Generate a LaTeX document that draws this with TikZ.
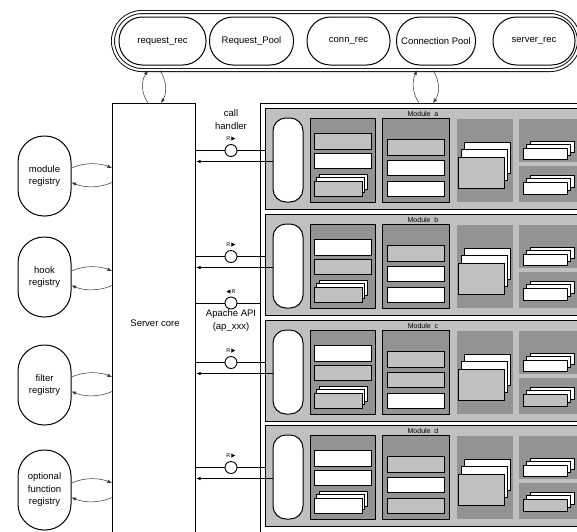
\documentclass[tikz,border=0pt]{standalone}
\usepackage{fontspec}
\setmainfont{Liberation Sans}
\newfontfamily\symfnt{DejaVu Sans}
\usetikzlibrary{arrows.meta,calc}
\definecolor{modfill}{HTML}{C0C0C0}
\definecolor{boxfill}{HTML}{939393}
\definecolor{barg}{HTML}{C0C0C0}
\definecolor{curvecol}{HTML}{333333}
\tikzset{
  txt/.style={inner sep=0pt, font=\fontsize{9.5}{12.5}\selectfont, align=center},
  stad/.style={draw, line width=1pt, rounded corners=23.5pt, minimum height=48pt, inner sep=0pt, font=\fontsize{9.5}{12}\selectfont},
  reg/.style={draw, line width=1pt, rounded corners=26pt, minimum width=53pt, minimum height=80pt, inner sep=0pt, align=center, font=\fontsize{9.5}{12.5}\selectfont},
  pillbox/.style={draw, line width=1pt, fill=white, rounded corners=13pt, minimum width=30pt, minimum height=84pt, inner sep=0pt},
  modbox/.style={draw, line width=1pt, fill=modfill, inner sep=0pt, anchor=north west},
  port/.style={circle, draw, line width=0.9pt, fill=white, minimum size=12pt, inner sep=0pt},
  rlbl/.style={inner sep=0pt, font=\fontsize{5.5}{6}\selectfont},
  modlbl/.style={inner sep=0pt, font=\fontsize{7}{8}\selectfont},
  wire/.style={line width=0.8pt},
  arr/.style={-{Latex[length=4.5pt,width=3.5pt]}},
  curvearr/.style={line width=0.5pt, draw=curvecol, -{Latex[length=4.5pt,width=3.5pt]}},
  bar/.style={draw, line width=0.8pt},
}
\newcommand\modblock[9]{%
  \pgfmathsetmacro\mT{#1}
  \node[modbox, minimum width=325pt, minimum height=101pt] (mod#2) at (265,\mT) {};
  \node[modlbl] (lbl#2) at (423,\mT+5.5) {Module\ \ #2};
  \node[pillbox] (pill#2) at (288,\mT+52) {};
  % box 1
  \draw[fill=boxfill, line width=1pt] (310,\mT+10) rectangle (375,\mT+94);
  \draw[bar, fill=#3] (314,\mT+25) rectangle (371,\mT+41);
  \draw[bar, fill=#4] (314,\mT+45) rectangle (371,\mT+60);
  \draw[bar, fill=white] (319,\mT+66) rectangle (367,\mT+81);
  \draw[bar, fill=white] (316.5,\mT+69.5) rectangle (364.5,\mT+84.5);
  \draw[bar, fill=#5] (314,\mT+73) rectangle (362,\mT+88);
  % box 2
  \draw[fill=boxfill, line width=1pt] (382,\mT+10) rectangle (449,\mT+94);
  \draw[bar, fill=#6] (387,\mT+31) rectangle (444,\mT+47);
  \draw[bar, fill=#7] (387,\mT+52) rectangle (444,\mT+67);
  \draw[bar, fill=#8] (387,\mT+73) rectangle (444,\mT+88);
  % box 3
  \fill[boxfill] (457,\mT+11) rectangle (513,\mT+94);
  \draw[bar, fill=white] (464,\mT+34) rectangle (510.5,\mT+65);
  \draw[bar, fill=white] (461,\mT+41.5) rectangle (507.5,\mT+72.5);
  \draw[bar, fill=barg] (458,\mT+49) rectangle (504.5,\mT+80);
  % box 4
  \fill[boxfill] (519,\mT+11) rectangle (590,\mT+54);
  \fill[boxfill] (519,\mT+58) rectangle (590,\mT+94);
  \draw[bar, fill=white] (530,\mT+33) rectangle (574,\mT+44);
  \draw[bar, fill=white] (526.5,\mT+36.5) rectangle (570.5,\mT+47.5);
  \draw[bar, fill=white] (523,\mT+40) rectangle (567,\mT+51);
  \draw[bar, fill=white] (530,\mT+67) rectangle (574,\mT+79);
  \draw[bar, fill=white] (526.5,\mT+70.5) rectangle (570.5,\mT+82.5);
  \draw[bar, fill=#9] (523,\mT+74) rectangle (567,\mT+86);
  % connectors
  \node[port] (c#2) at (231,\mT+42.5) {};
  \node[rlbl] (r#2) at (231,\mT+30.5) {R\,{\symfnt ▶}};
  \draw[wire] (core.east |- c#2) -- (c#2) -- (mod#2.west |- c#2);
  \coordinate (y#2) at (0,\mT+53.5);
  \draw[wire, arr] (pill#2.west |- y#2) -- (core.east |- y#2);
}
\begin{document}
\begin{tikzpicture}[x=1pt,y=-1pt]
\useasboundingbox (0,0) rectangle (577,531);
\clip (0,0) rectangle (577,531);
\fill[white] (0,0) rectangle (577,531);

% top pool
\node[draw, double, double distance=2.2pt, line width=0.9pt, rounded corners=29pt,
      minimum width=466pt, minimum height=58pt, inner sep=0pt] (pool) at (346,41) {};
\node[stad, minimum width=87pt] (reqrec) at (162.5,41) {request\_rec};
\node[stad, minimum width=84pt] (reqpool) at (251.5,41) {Request\_Pool};
\node[stad, minimum width=83pt] (connrec) at (348.5,41) {conn\_rec};
\node[stad, minimum width=79pt] (connpool) at (436,41) {Connection Pool};
\node[stad, minimum width=82pt] (servrec) at (534,41) {server\_rec};

% server core
\node[draw, line width=1pt, minimum width=83pt, minimum height=440pt, inner sep=0pt, anchor=north west] (core) at (112,103) {};
\node[txt] (coretxt) at (155,323) {Server core};

% module frame
\node[draw, line width=1.2pt, minimum width=330pt, minimum height=440pt, inner sep=0pt, anchor=north west] (frame) at (260,103) {};

% registries
\node[reg] (modreg) at (44.5,176) {module\\registry};
\node[reg] (hookreg) at (44.5,277) {hook\\registry};
\node[reg] (filtreg) at (44.5,385) {filter\\registry};
\node[reg] (optreg) at (44.5,490) {optional\\function\\registry};

% pool <-> core
\draw[curvearr] (core.north -| 148,0) .. controls (141,93) and (141,81) .. (pool.south -| 148,0);
\draw[curvearr] (pool.south -| 160,0) .. controls (167,81) and (167,93) .. (core.north -| 161,0);
\draw[curvearr] (frame.north -| 419,0) .. controls (412,93) and (412,81) .. (pool.south -| 417,0);
\draw[curvearr] (pool.south -| 433,0) .. controls (440,81) and (440,93) .. (frame.north -| 433,0);

% registries <-> core
\foreach \r/\c in {modreg/176, hookreg/279, filtreg/385, optreg/491} {
  \coordinate (u\r) at (0,\c-8);
  \coordinate (l\r) at (0,\c+6.5);
  \draw[curvearr] (\r.east |- u\r) .. controls (85,\c-14) and (100,\c-13) .. (core.west |- u\r);
  \draw[curvearr] (core.west |- l\r) .. controls (100,\c+12) and (85,\c+12) .. (\r.east |- l\r);
}

% modules
\modblock{108}{a}{barg}{white}{barg}{barg}{white}{white}{white}
\modblock{214}{b}{white}{barg}{barg}{barg}{white}{white}{white}
\modblock{320}{c}{white}{barg}{barg}{barg}{barg}{white}{barg}
\modblock{425}{d}{white}{white}{white}{barg}{white}{barg}{barg}

% call handler label
\node[txt] (calltxt) at (231,119.5) {call\\handler};

% Apache API
\node[port] (capi) at (231,303) {};
\node[rlbl] (rapi) at (231,291.5) {{\symfnt ◀}\,R};
\draw[wire] (core.east |- capi) -- (capi) -- (frame.west |- capi);
\node[txt] (apitxt) at (231,320.5) {Apache API\\(ap\_xxx)};
\end{tikzpicture}
\end{document}
